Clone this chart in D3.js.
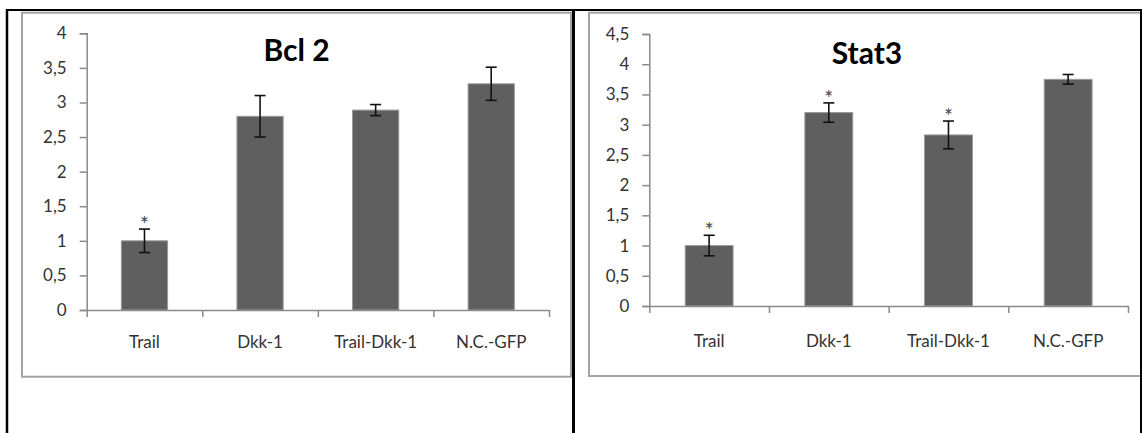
<!DOCTYPE html>
<html>
<head>
<meta charset="utf-8">
<script src="https://cdn.jsdelivr.net/npm/d3@7"></script>
<style>
  html, body { margin: 0; padding: 0; background: #fff; }
  svg { display: block; }
  text { font-family: Lato, "Open Sans", "Liberation Sans", sans-serif; }
</style>
</head>
<body>
<svg id="fig" width="1142" height="433"></svg>
<script>
// Shared categories for both panels
const categories = ["Trail", "Dkk-1", "Trail-Dkk-1", "N.C.-GFP"];

// Bcl 2 relative expression (mean, error) and significance markers
const bcl2Values = [1.0, 2.8, 2.89, 3.27];
const bcl2Errors = [0.17, 0.3, 0.08, 0.24];
const bcl2Significant = [true, false, false, false];
const bcl2Ticks = [0, 0.5, 1, 1.5, 2, 2.5, 3, 3.5, 4];

// Stat3 relative expression (mean, error) and significance markers
const stat3Values = [1.0, 3.2, 2.83, 3.75];
const stat3Errors = [0.17, 0.16, 0.23, 0.08];
const stat3Significant = [true, true, true, false];
const stat3Ticks = [0, 0.5, 1, 1.5, 2, 2.5, 3, 3.5, 4, 4.5];

const fmt = d3.formatLocale({ decimal: ",", thousands: ".", grouping: [3], currency: ["", ""] }).format("~g");

const svg = d3.select("#fig");

// Table-like black rules around the two panels
const rules = svg.append("g").attr("stroke", "#000");
rules.append("line").attr("x1", 6).attr("x2", 1142).attr("y1", 10).attr("y2", 10).attr("stroke-width", 2);
rules.append("line").attr("x1", 7).attr("x2", 7).attr("y1", 9).attr("y2", 433).attr("stroke-width", 2.5);
rules.append("line").attr("x1", 573.5).attr("x2", 573.5).attr("y1", 9).attr("y2", 433).attr("stroke-width", 3);
rules.append("line").attr("x1", 1141).attr("x2", 1141).attr("y1", 9).attr("y2", 433).attr("stroke-width", 2);

const panels = [
  {
    title: "Bcl 2", values: bcl2Values, errors: bcl2Errors, sig: bcl2Significant, ticks: bcl2Ticks,
    frame: { x: 22, y: 12.7, w: 549, h: 364 },
    plot: { left: 86.7, right: 549, top: 33.3, bottom: 310 },
    titleX: 296.5, titleY: 61, labelY: 348
  },
  {
    title: "Stat3", values: stat3Values, errors: stat3Errors, sig: stat3Significant, ticks: stat3Ticks,
    frame: { x: 589, y: 12.7, w: 556, h: 363.3 },
    plot: { left: 649.3, right: 1128, top: 34, bottom: 306 },
    titleX: 867, titleY: 64, labelY: 347
  }
];

svg.append("defs").append("clipPath").attr("id", "inner")
  .append("rect").attr("x", 0).attr("y", 0).attr("width", 1140).attr("height", 433);

panels.forEach(p => {
  const g = svg.append("g").attr("clip-path", "url(#inner)");

  // chart area border
  g.append("rect")
    .attr("x", p.frame.x).attr("y", p.frame.y)
    .attr("width", p.frame.w).attr("height", p.frame.h)
    .attr("fill", "#fff").attr("stroke", "#a3a3a3").attr("stroke-width", 2);

  const yMax = p.ticks[p.ticks.length - 1];
  const y = d3.scaleLinear().domain([0, yMax]).range([p.plot.bottom, p.plot.top]);
  const x = d3.scaleBand().domain(categories).range([p.plot.left, p.plot.right])
    .paddingInner(0.6).paddingOuter(0.3);
  const xEdges = d3.scaleLinear().domain([0, categories.length]).range([p.plot.left, p.plot.right]);

  // title
  g.append("text")
    .attr("x", p.titleX).attr("y", p.titleY)
    .attr("text-anchor", "middle")
    .attr("font-size", 30).attr("font-weight", "bold").attr("fill", "#000")
    .text(p.title);

  // bars
  g.append("g").selectAll("rect")
    .data(categories)
    .join("rect")
    .attr("x", d => x(d))
    .attr("width", x.bandwidth())
    .attr("y", (d, i) => y(p.values[i]))
    .attr("height", (d, i) => y(0) - y(p.values[i]))
    .attr("fill", "#5f5f5f")
    .attr("stroke", "#9a9a9a").attr("stroke-width", 1);

  // error bars
  const eb = g.append("g").attr("stroke", "#111").attr("stroke-width", 1.6);
  categories.forEach((c, i) => {
    const cx = x(c) + x.bandwidth() / 2;
    const hi = y(p.values[i] + p.errors[i]);
    const lo = y(p.values[i] - p.errors[i]);
    eb.append("line").attr("x1", cx).attr("x2", cx).attr("y1", hi).attr("y2", lo);
    eb.append("line").attr("x1", cx - 5.5).attr("x2", cx + 5.5).attr("y1", hi).attr("y2", hi);
    eb.append("line").attr("x1", cx - 5.5).attr("x2", cx + 5.5).attr("y1", lo).attr("y2", lo);
  });

  // significance asterisks
  g.append("g").selectAll("text")
    .data(categories.filter((c, i) => p.sig[i]))
    .join("text")
    .attr("x", c => x(c) + x.bandwidth() / 2)
    .attr("y", c => { const i = categories.indexOf(c); return y(p.values[i] + p.errors[i]) + 3; })
    .attr("text-anchor", "middle")
    .attr("font-size", 21).attr("fill", "#445")
    .text("*");

  // y axis
  const yAxis = g.append("g")
    .attr("transform", `translate(${p.plot.left},0)`)
    .call(d3.axisLeft(y).tickValues(p.ticks).tickFormat(fmt).tickSize(7).tickPadding(13));
  yAxis.select(".domain").attr("stroke", "#8a8a8a").attr("stroke-width", 1.5);
  yAxis.selectAll(".tick line").attr("stroke", "#8a8a8a").attr("stroke-width", 1.5);
  yAxis.selectAll(".tick text").attr("font-size", 17).attr("fill", "#333")
    .attr("font-family", "Lato, 'Open Sans', sans-serif");

  // x axis: boundary ticks
  const xAxis = g.append("g")
    .attr("transform", `translate(0,${p.plot.bottom})`)
    .call(d3.axisBottom(xEdges).tickValues(d3.range(categories.length + 1)).tickFormat("").tickSize(7).tickSizeOuter(0));
  xAxis.select(".domain").attr("stroke", "#8a8a8a").attr("stroke-width", 1.5);
  xAxis.selectAll(".tick line").attr("stroke", "#8a8a8a").attr("stroke-width", 1.5);

  // category labels
  g.append("g").selectAll("text")
    .data(categories)
    .join("text")
    .attr("x", c => x(c) + x.bandwidth() / 2)
    .attr("y", p.labelY)
    .attr("text-anchor", "middle")
    .attr("font-size", 17).attr("fill", "#333")
    .text(c => c);
});
</script>
</body>
</html>
